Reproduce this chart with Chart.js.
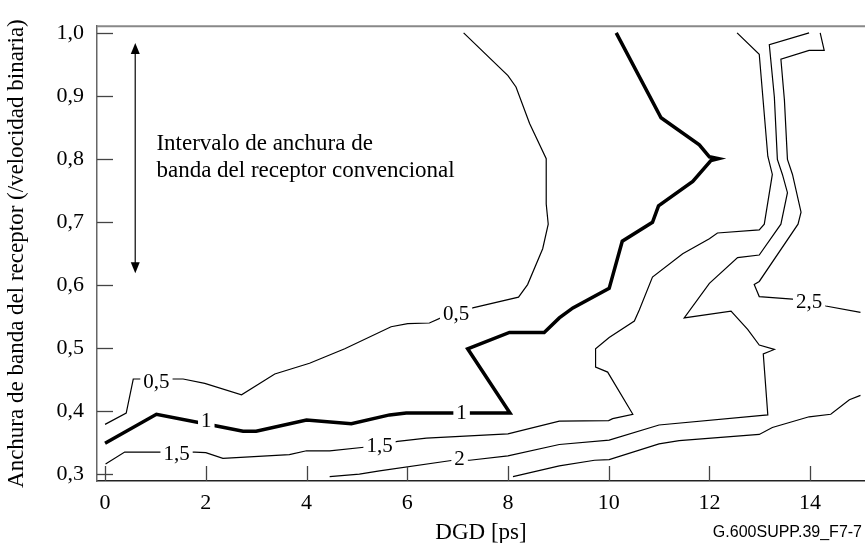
<!DOCTYPE html>
<html>
<head>
<meta charset="utf-8">
<script src="https://cdn.jsdelivr.net/npm/chart.js@4.4.1/dist/chart.umd.min.js"></script>
<style>
  body { margin: 0; background: #fff; }
  #chart { display: block; }
</style>
</head>
<body>
<canvas id="chart" width="865" height="543"></canvas>
<script>
// Tick values
const xTickValues = [0, 2, 4, 6, 8, 10, 12, 14];
const yTickValues = [0.3, 0.4, 0.5, 0.6, 0.7, 0.8, 0.9, 1.0];

// Contour lines, [DGD (ps), bandwidth / bit rate]
const contour05 = [[0.0,0.379],[0.42,0.397],[0.56,0.451],[1.55,0.451],[1.98,0.444],[2.71,0.426],[3.37,0.459],[4.06,0.476],[4.76,0.499],[5.68,0.534],[6.01,0.539],[6.44,0.540],[6.69,0.549],[7.30,0.564],[8.21,0.581],[8.39,0.601],[8.69,0.658],[8.80,0.697],[8.76,0.729],[8.76,0.801],[8.43,0.857],[8.16,0.915],[8.00,0.933],[7.12,1.001]];
const contour10 = [[0.0,0.349],[1.02,0.395],[2.24,0.376],[2.74,0.368],[3.0,0.368],[4.0,0.386],[4.89,0.380],[5.65,0.394],[5.98,0.397],[8.04,0.397],[7.20,0.499],[8.03,0.525],[8.72,0.525],[9.02,0.548],[9.29,0.564],[10.01,0.595],[10.27,0.670],[10.87,0.700],[10.99,0.726],[11.67,0.765],[12.03,0.798],[12.18,0.801],[12.0,0.804],[11.80,0.823],[11.04,0.866],[10.15,1.001]];
const contour15 = [[0.01,0.316],[0.39,0.335],[1.78,0.335],[2.0,0.334],[2.34,0.325],[3.66,0.331],[4.0,0.337],[4.46,0.337],[5.19,0.343],[5.81,0.352],[6.38,0.357],[8.0,0.364],[9.02,0.384],[10.0,0.385],[10.08,0.388],[10.48,0.395],[9.98,0.462],[9.74,0.470],[9.74,0.499],[10.01,0.517],[10.51,0.543],[10.61,0.561],[10.87,0.613],[11.47,0.650],[12.0,0.674],[12.16,0.683],[12.99,0.688],[13.09,0.697],[13.25,0.776],[13.16,0.805],[12.99,0.967],[12.55,1.001]];
const contour20 = [[4.46,0.296],[5.05,0.300],[5.45,0.305],[6.91,0.322],[7.24,0.322],[8.0,0.329],[9.02,0.347],[10.01,0.354],[11.0,0.378],[13.0,0.393],[13.16,0.394],[13.07,0.491],[13.29,0.498],[12.99,0.505],[12.76,0.530],[12.43,0.559],[11.50,0.548],[12.0,0.603],[12.56,0.644],[12.99,0.648],[13.42,0.697],[13.55,0.747],[13.45,0.776],[13.35,0.800],[13.29,0.899],[13.19,0.982],[13.98,1.001]];
const contour25 = [[14.2,1.001],[14.28,0.973],[13.98,0.973],[13.42,0.959],[13.49,0.894],[13.55,0.800],[13.65,0.776],[13.82,0.716],[13.76,0.697],[12.99,0.606],[12.89,0.601],[12.99,0.582],[13.65,0.578],[14.31,0.567],[15.0,0.557]];
const contourLow = [[8.1,0.296],[9.02,0.313],[9.72,0.322],[10.01,0.323],[11.0,0.348],[11.40,0.353],[12.99,0.363],[13.25,0.374],[13.98,0.391],[14.41,0.395],[14.78,0.418],[15.0,0.425]];

// Inline contour labels
const labelTexts = ["0,5", "0,5", "1", "1", "1,5", "1,5", "2", "2,5"];
const labelX = [1.02, 6.97, 2.01, 7.08, 1.42, 5.45, 7.04, 13.98];
const labelY = [0.446, 0.554, 0.384, 0.397, 0.331, 0.344, 0.323, 0.572];

// Receiver bandwidth range arrow and note
const arrowX = 0.6;
const arrowRange = [0.619, 0.985];
const noteLines = ["Intervalo de anchura de", "banda del receptor convencional"];
const noteX = 1.02;
const noteY = [0.825, 0.781];

const serif = '"Liberation Serif", "Times New Roman", serif';

function toPoints(arr) {
  return arr.map(p => ({ x: p[0], y: p[1] }));
}

function lineSet(arr, width) {
  return {
    data: toPoints(arr),
    showLine: true,
    borderColor: "#000",
    borderWidth: width,
    pointRadius: 0,
    fill: false,
    tension: 0,
    borderJoinStyle: "miter",
  };
}

const extras = {
  id: "extras",
  afterDatasetsDraw(chart) {
    const { ctx, chartArea: a, scales: { x, y } } = chart;
    ctx.save();

    // frame line on top
    ctx.strokeStyle = "#888";
    ctx.lineWidth = 2;
    ctx.beginPath();
    ctx.moveTo(a.left, a.top);
    ctx.lineTo(a.right, a.top);
    ctx.stroke();

    // inward tick marks
    ctx.strokeStyle = "#444";
    ctx.lineWidth = 1.3;
    xTickValues.forEach(v => {
      const px = Math.round(x.getPixelForValue(v)) + 0.5;
      ctx.beginPath();
      ctx.moveTo(px, a.bottom);
      ctx.lineTo(px, a.bottom - 15);
      ctx.stroke();
    });
    yTickValues.forEach(v => {
      const py = Math.round(y.getPixelForValue(v)) + 0.5;
      ctx.beginPath();
      ctx.moveTo(a.left, py);
      ctx.lineTo(a.left + 16, py);
      ctx.stroke();
    });

    // contour labels
    ctx.font = "21px " + serif;
    ctx.textAlign = "center";
    ctx.textBaseline = "middle";
    labelTexts.forEach((t, i) => {
      const px = x.getPixelForValue(labelX[i]);
      const py = y.getPixelForValue(labelY[i]);
      const w = ctx.measureText(t).width;
      ctx.fillStyle = "#fff";
      ctx.fillRect(px - w / 2 - 3, py - 9, w + 6, 18);
      ctx.fillStyle = "#000";
      ctx.fillText(t, px, py);
    });

    // double arrow
    const ax = x.getPixelForValue(arrowX);
    const yb = y.getPixelForValue(arrowRange[0]);
    const yt = y.getPixelForValue(arrowRange[1]);
    ctx.strokeStyle = "#333";
    ctx.lineWidth = 1.5;
    ctx.beginPath();
    ctx.moveTo(ax, yt + 8);
    ctx.lineTo(ax, yb - 8);
    ctx.stroke();
    ctx.fillStyle = "#000";
    ctx.beginPath();
    ctx.moveTo(ax, yt);
    ctx.lineTo(ax - 4.5, yt + 11);
    ctx.lineTo(ax + 4.5, yt + 11);
    ctx.closePath();
    ctx.fill();
    ctx.beginPath();
    ctx.moveTo(ax, yb);
    ctx.lineTo(ax - 4.5, yb - 11);
    ctx.lineTo(ax + 4.5, yb - 11);
    ctx.closePath();
    ctx.fill();

    // note text
    ctx.font = "23px " + serif;
    ctx.textAlign = "left";
    ctx.textBaseline = "middle";
    noteLines.forEach((t, i) => {
      ctx.fillText(t, x.getPixelForValue(noteX), y.getPixelForValue(noteY[i]));
    });

    // figure reference
    ctx.font = '16px "Liberation Sans", Arial, sans-serif';
    ctx.textAlign = "right";
    ctx.textBaseline = "alphabetic";
    ctx.fillText("G.600SUPP.39_F7-7", 862, 537);

    ctx.restore();
  },
};

const ctx = document.getElementById("chart").getContext("2d");

const contourChart = new Chart(ctx, {
  type: "scatter",
  data: {
    datasets: [
      lineSet(contour05, 1.2),
      lineSet(contour10, 3.5),
      lineSet(contour15, 1.2),
      lineSet(contour20, 1.2),
      lineSet(contour25, 1.2),
      lineSet(contourLow, 1.2),
    ],
  },
  options: {
    responsive: false,
    animation: false,
    devicePixelRatio: 1,
    layout: { padding: { top: 20, right: 0, left: 0, bottom: 0 } },
    plugins: {
      legend: { display: false },
      tooltip: { enabled: false },
    },
    scales: {
      x: {
        type: "linear",
        min: -0.16,
        max: 15.09,
        afterBuildTicks: scale => {
          scale.ticks = xTickValues.map(v => ({ value: v }));
        },
        afterFit: scale => {
          scale.height = 62;
        },
        grid: { display: false, drawTicks: false },
        border: { display: true, color: "#222", width: 1.5 },
        ticks: {
          color: "#000",
          padding: 9,
          maxRotation: 0,
          font: { family: serif, size: 22 },
        },
        title: {
          display: true,
          text: "DGD [ps]",
          color: "#000",
          font: { family: serif, size: 23, lineHeight: 0.8 },
          padding: { top: 0, bottom: 1 },
        },
      },
      y: {
        type: "linear",
        min: 0.289,
        max: 1.0115,
        afterBuildTicks: scale => {
          scale.ticks = yTickValues.map(v => ({ value: v }));
        },
        afterFit: scale => {
          scale.width = 97;
        },
        grid: { display: false, drawTicks: false },
        border: { display: true, color: "#666", width: 1.5 },
        ticks: {
          color: "#000",
          padding: 13,
          font: { family: serif, size: 22 },
          callback: v => v.toFixed(1).replace(".", ","),
        },
        title: {
          display: true,
          text: "Anchura de banda del receptor (/velocidad binaria)",
          color: "#000",
          font: { family: serif, size: 23, lineHeight: 1.0 },
          padding: { top: 5, bottom: 0 },
        },
      },
    },
  },
  plugins: [extras],
});
</script>
</body>
</html>
